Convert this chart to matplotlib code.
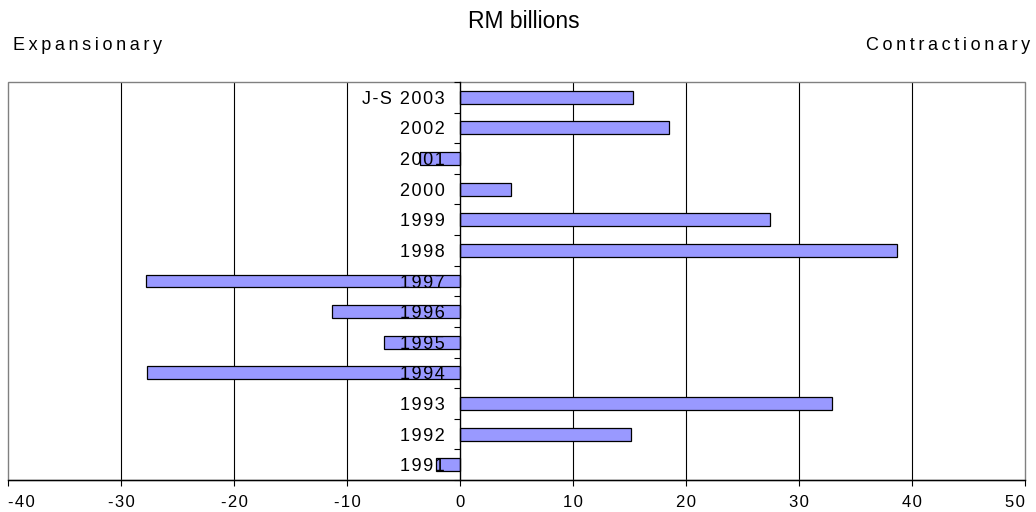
import matplotlib
matplotlib.use("Agg")
import matplotlib.pyplot as plt
from matplotlib.patches import Rectangle
import numpy as np

categories = ["1991", "1992", "1993", "1994", "1995", "1996", "1997",
              "1998", "1999", "2000", "2001", "2002", "J-S 2003"]
values = [-2.15, 15.1, 32.9, -27.7, -6.7, -11.3, -27.8,
          38.7, 27.45, 4.55, -3.5, 18.5, 15.3]
xticks = [-40, -30, -20, -10, 0, 10, 20, 30, 40, 50]

plt.rcParams['font.family'] = ['Liberation Sans', 'DejaVu Sans']

THIN = "\u2009"


def spaced(s, sep=THIN):
    return sep.join(list(s))


fig = plt.figure(figsize=(10.36, 5.12), dpi=100)
ax = fig.add_axes([8/1036, 1-480/512, (1025-8)/1036, (480-82)/512])

y = np.arange(len(categories))
ax.barh(y, values, height=0.42, color='#9999FF', edgecolor='#000000',
        linewidth=0.9, zorder=2)

ax.set_xlim(xticks[0], xticks[-1])
ax.set_ylim(-0.5, len(categories) - 0.5)

for xv in xticks[1:-1]:
    if xv != 0:
        ax.axvline(xv, color='#000000', linewidth=0.8, zorder=0)

# frame
for s in ['top', 'right']:
    ax.spines[s].set_visible(False)
ax.spines['bottom'].set_color('#000000')
ax.spines['bottom'].set_linewidth(1.0)
ax.add_patch(Rectangle((0, 0), 1, 1, transform=ax.transAxes, fill=False,
                       edgecolor='#808080', linewidth=1.0, zorder=0.5,
                       clip_on=False))

# category axis at zero
ax.spines['left'].set_position(('data', 0))
ax.spines['left'].set_color('#000000')
ax.spines['left'].set_linewidth(1.0)
ax.spines['left'].set_zorder(3)
ax.set_yticks(y)
ax.set_yticklabels([])
ax.set_yticks(np.arange(len(categories) + 1) - 0.5, minor=True)
ax.tick_params(axis='y', which='major', length=0)
ax.tick_params(axis='y', which='minor', length=4, width=0.8, direction='out')

for yi, cat in zip(y, categories):
    ax.annotate(spaced(cat, "\u200a"), xy=(0, yi), xytext=(-15, -2),
                textcoords='offset pixels', ha='right', va='center',
                fontsize=13, zorder=5, annotation_clip=False)

ax.set_xticks(xticks)
ax.set_xticklabels([spaced(str(v), "\u200a") for v in xticks])
ax.tick_params(axis='x', which='major', length=4, width=0.8, direction='out',
               labelsize=12, pad=7)
xl = ax.get_xticklabels()
xl[0].set_horizontalalignment('left')
xl[-1].set_horizontalalignment('right')

fig.text(524/1036, 1-21/512, "RM billions", ha='center', va='center', fontsize=16.5)
fig.text(13/1036, 1-46/512, spaced("Expansionary"), ha='left', va='center', fontsize=13)
fig.text(1030/1036, 1-46/512, spaced("Contractionary"), ha='right', va='center', fontsize=13)

fig.savefig("out.png", dpi=100)
